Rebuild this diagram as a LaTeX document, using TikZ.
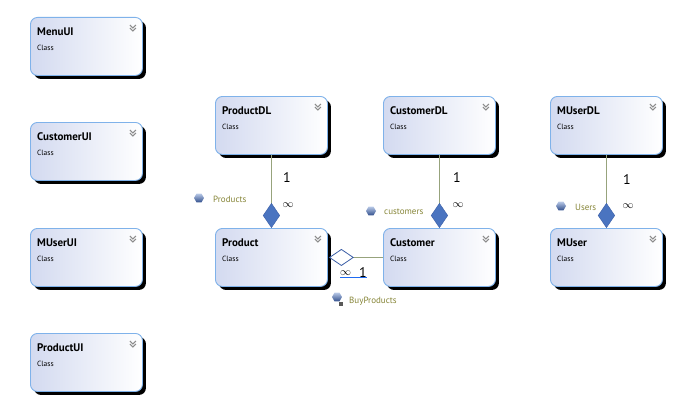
\documentclass[tikz,border=0pt]{standalone}
\usepackage{fontspec}
\setmainfont{PT Sans}
\usetikzlibrary{arrows.meta,shadows,shapes.geometric}

\definecolor{boxline}{HTML}{7FB2EA}
\definecolor{boxleft}{HTML}{D3DAF0}
\definecolor{lnk}{HTML}{97A37C}
\definecolor{dmd}{HTML}{4A74C0}
\definecolor{dmdedge}{HTML}{3B5EA6}
\definecolor{rolecol}{HTML}{858436}
\definecolor{chevcol}{HTML}{8C8C8C}
\definecolor{selblue}{HTML}{1F6BF2}

\tikzset{
  clsbox/.style={draw=boxline, line width=0.9pt, rounded corners=7pt,
    left color=boxleft, right color=white, anchor=north west,
    minimum width=112pt, minimum height=58pt, inner sep=0pt,
    drop shadow={shadow xshift=3.5pt, shadow yshift=-3.5pt, opacity=1, fill=black}},
  clsname/.style={anchor=west, inner sep=0pt, font=\fontsize{11}{13}\selectfont\bfseries},
  clskind/.style={anchor=west, inner sep=0pt, font=\fontsize{7.5}{9}\selectfont},
  chevline/.style={draw=chevcol, line width=1pt},
  assoc/.style={draw=lnk, line width=0.8pt,
    -{Diamond[length=25pt, width=17pt, fill=dmd, color=dmdedge, line width=0.4pt]}},
  aggr/.style={draw=lnk, line width=0.8pt, shorten >=1pt,
    -{Diamond[length=25pt, width=17pt, fill=white, color=dmdedge, line width=0.8pt]}},
  rolename/.style={inner sep=0pt, text=rolecol, font=\fontsize{9}{11}\selectfont},
  one/.style={inner sep=0pt, font=\fontsize{14}{16}\selectfont},
  many/.style={inner sep=0pt, font=\fontsize{11}{12}\selectfont},
  propicon/.style={regular polygon, regular polygon sides=6, minimum size=10pt,
    inner sep=0pt, top color=dmd!40, bottom color=dmdedge!85!black, draw=none}
}

% class box: name, x, y, title
\newcommand{\classbox}[4]{%
  \node[clsbox] (#1) at (#2,#3) {};
  \node[clsname] (#1-name) at ([xshift=7pt,yshift=-15pt]#1.north west) {#4};
  \node[clskind] (#1-kind) at ([xshift=7pt,yshift=-31pt]#1.north west) {Class};
  \coordinate (#1-chev) at ([xshift=-13pt,yshift=-8pt]#1.north east);
  \draw[chevline] (#1-chev) -- ++(3pt,-3pt) -- ++(3pt,3pt);
  \draw[chevline] ([yshift=-3pt]#1-chev) -- ++(3pt,-3pt) -- ++(3pt,3pt);
}

\begin{document}
\begin{tikzpicture}[x=1pt,y=-1pt]
  \useasboundingbox (0,0) rectangle (685,420);

  % UI classes
  \classbox{MenuUI}{30}{17}{MenuUI}
  \classbox{CustomerUI}{30}{122}{CustomerUI}
  \classbox{MUserUI}{30}{228}{MUserUI}
  \classbox{ProductUI}{30}{333}{ProductUI}

  % data layer and model classes
  \classbox{ProductDL}{215}{96}{ProductDL}
  \classbox{CustomerDL}{383}{96}{CustomerDL}
  \classbox{MUserDL}{550}{96}{MUserDL}
  \classbox{Product}{215}{228}{Product}
  \classbox{Customer}{383}{228}{Customer}
  \classbox{MUser}{550}{228}{MUser}

  % associations
  \draw[assoc] (ProductDL.south) -- (Product.north);
  \draw[assoc] (CustomerDL.south) -- (Customer.north);
  \draw[assoc] (MUserDL.south) -- (MUser.north);
  \draw[aggr] (Customer.west) -- (Product.east);

  % roles
  \node[one] (pOne) at (287,178) {1};
  \node[many] (pMany) at (288,205) {$\infty$};
  \node[propicon] (pIcon) at (199,198) {};
  \node[rolename, anchor=west] (pRole) at (213,199) {Products};

  \node[one] (cOne) at (457,178) {1};
  \node[many] (cMany) at (458,205) {$\infty$};
  \node[propicon] (cIcon) at (371,211) {};
  \node[rolename, anchor=west] (cRole) at (384,212) {customers};

  \node[one] (uOne) at (627,180) {1};
  \node[many] (uMany) at (628,206) {$\infty$};
  \node[propicon] (uIcon) at (561,206) {};
  \node[rolename, anchor=west] (uRole) at (575,207) {Users};

  \node[many, anchor=base west] (bMany) at (340,275) {$\infty$};
  \node[one, anchor=base west] (bOne) at (359,277) {1};
  \draw[selblue, line width=1pt] ([yshift=-2pt]bMany.south west) -- ([yshift=-2pt]bMany.south west -| bOne.east);
  \node[propicon] (bIcon) at (337,297) {};
  \node[fill=black!65, minimum size=3.5pt, inner sep=0pt] (bLock) at (341,304) {};
  \node[rolename, anchor=west] (bRole) at (349,301) {BuyProducts};
\end{tikzpicture}
\end{document}
